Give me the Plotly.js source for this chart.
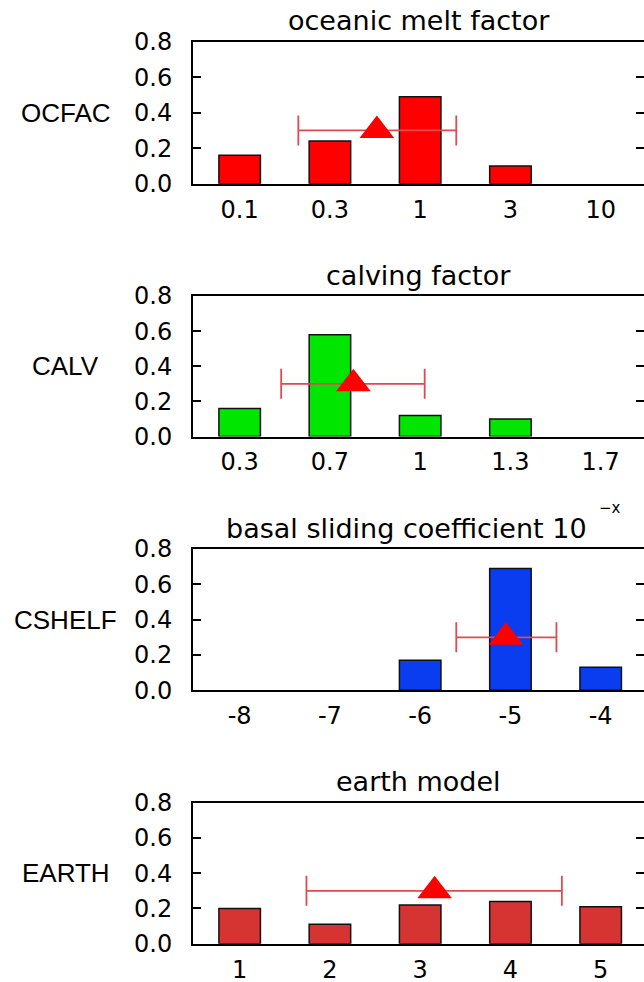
<!DOCTYPE html>
<html>
<head>
<meta charset="utf-8">
<script src="https://cdn.plot.ly/plotly-3.0.1.min.js"></script>
<style>
html, body { margin: 0; padding: 0; background: #ffffff; overflow: hidden; }
#chart { width: 644px; height: 982px; }
</style>
</head>
<body>
<div id="chart"></div>
<script>
// ---- data ----
const panelTitles = ['oceanic melt factor', 'calving factor', 'basal sliding coefficient 10', 'earth model'];
const paramNames = ['OCFAC', 'CALV', 'CSHELF', 'EARTH'];

const catsOCFAC = ['0.1', '0.3', '1', '3', '10'];
const valsOCFAC = [0.16, 0.24, 0.49, 0.10, 0];

const catsCALV = ['0.3', '0.7', '1', '1.3', '1.7'];
const valsCALV = [0.16, 0.58, 0.12, 0.10, 0];

const catsCSHELF = ['-8', '-7', '-6', '-5', '-4'];
const valsCSHELF = [0, 0, 0.17, 0.69, 0.13];

const catsEARTH = ['1', '2', '3', '4', '5'];
const valsEARTH = [0.20, 0.11, 0.22, 0.24, 0.21];

// mean position (in category-index units) and spread of each parameter
const meanPos = [1.52, 1.26, 2.95, 2.16];
const meanLevel = [0.3, 0.3, 0.3, 0.3];
const spreadMinus = [0.87, 0.80, 0.55, 1.42];
const spreadPlus = [0.88, 0.79, 0.56, 1.41];

const yTickVals = [0, 0.2, 0.4, 0.6, 0.8];
const yTickText = ['0.0', '0.2', '0.4', '0.6', '0.8'];

// ---- styling ----
const cats = [catsOCFAC, catsCALV, catsCSHELF, catsEARTH];
const vals = [valsOCFAC, valsCALV, valsCSHELF, valsEARTH];
const barColors = ['#ff0000', '#00e600', '#0a3cf0', '#d63333'];

const H = 982;
const panelTop = [41.7, 296, 549, 802.7];
const panelBot = [183.7, 436.5, 690.3, 943.7];
const plotLeft = 193, plotRight = 644;
const plotW = plotRight - plotLeft;

const tickFont = {family: 'DejaVu Sans', size: 24, color: '#000'};
const titleFont = {family: 'DejaVu Sans', size: 27, color: '#000'};
const labelFont = {family: 'Liberation Sans', size: 26, color: '#000'};

const data = [];
const layout = {
  width: 644, height: 982,
  margin: {l: plotLeft, r: 644 - plotRight, t: 0, b: 0},
  paper_bgcolor: '#ffffff', plot_bgcolor: '#ffffff',
  showlegend: false,
  annotations: []
};

for (let k = 0; k < 4; k++) {
  const n = k + 1;
  const xa = 'x' + (n === 1 ? '' : n);
  const ya = 'y' + (n === 1 ? '' : n);
  const xname = 'xaxis' + (n === 1 ? '' : n);
  const yname = 'yaxis' + (n === 1 ? '' : n);
  const idx = cats[k].map((c, i) => i);

  data.push({
    type: 'bar', x: idx, y: vals[k].map(v => (v === 0 ? null : v)), xaxis: xa, yaxis: ya,
    width: 0.46,
    marker: {color: barColors[k], line: {color: '#111', width: 1.5}},
    hoverinfo: 'skip'
  });
  data.push({
    type: 'scatter', mode: 'markers', x: [meanPos[k]], y: [meanLevel[k]],
    xaxis: xa, yaxis: ya, cliponaxis: false,
    marker: {symbol: 'triangle-up', size: 30, color: '#ff0000', line: {width: 0}},
    error_x: {type: 'data', symmetric: false, array: [spreadPlus[k]], arrayminus: [spreadMinus[k]],
              color: 'rgb(226,72,82)', thickness: 1.8, width: 15},
    hoverinfo: 'skip'
  });

  layout[xname] = {
    domain: [0, 1], anchor: ya,
    range: [-0.517, 4.48],
    tickmode: 'array', tickvals: idx, ticktext: cats[k],
    ticks: '', showline: true, linewidth: 2, linecolor: '#000', mirror: true,
    showgrid: false, zeroline: false, tickfont: tickFont,
    ticklabelstandoff: 3, automargin: false, fixedrange: true
  };
  layout[yname] = {
    domain: [1 - panelBot[k] / H, 1 - panelTop[k] / H], anchor: xa,
    range: [0, 0.8],
    tickmode: 'array', tickvals: yTickVals, ticktext: yTickText,
    ticks: 'inside', ticklen: 8, tickwidth: 2, tickcolor: '#000',
    showline: true, linewidth: 2, linecolor: '#000', mirror: 'ticks',
    showgrid: false, zeroline: false, tickfont: tickFont,
    ticklabelstandoff: 14, automargin: false, fixedrange: true
  };

  // panel title
  const titleCenterPx = panelTop[k] - 21;
  const titleX = (k === 2) ? (406.7 - plotLeft) / plotW : 0.5;
  layout.annotations.push({
    text: panelTitles[k], xref: 'paper', yref: 'paper',
    x: titleX, y: 1 - titleCenterPx / H, xanchor: 'center', yanchor: 'middle',
    showarrow: false, font: titleFont
  });
  // parameter name at the left
  layout.annotations.push({
    text: paramNames[k], xref: 'paper', yref: ya,
    x: (66 - plotLeft) / plotW, y: 0.4, xanchor: 'center', yanchor: 'middle',
    showarrow: false, font: labelFont
  });
}

// exponent of the basal sliding title
layout.annotations.push({
  text: '\u2212x', xref: 'paper', yref: 'paper',
  x: (597 - plotLeft) / plotW, y: 1 - 508 / H, xanchor: 'left', yanchor: 'middle',
  showarrow: false, font: {family: 'DejaVu Sans', size: 15, color: '#000'}
});

Plotly.newPlot('chart', data, layout, {displayModeBar: false, staticPlot: true});
</script>
</body>
</html>
